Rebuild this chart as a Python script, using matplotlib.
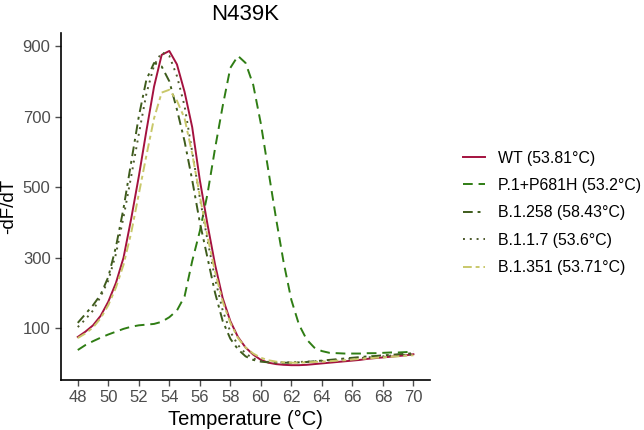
import numpy as np
import matplotlib.pyplot as plt

plt.rcParams['font.family'] = ['Liberation Sans', 'DejaVu Sans']

# Temperatur-Raster (0.5 °C)
temp = np.arange(48, 70.5, 0.5)

wt = [75, 90, 108, 135, 175, 228, 300, 410, 530, 660, 785, 875, 886, 848, 770, 670,
      520, 395, 280, 185, 120, 75, 45, 25, 10, 2, -2, -4,
      -5, -5, -4, -2, 0, 2, 4, 6, 8, 10, 13, 15, 17, 19, 21, 23, 26]
p1 = [38, 52, 63, 73, 82, 90, 98, 104, 108, 110, 112, 118, 131, 150, 190, 290,
      375, 480, 610, 730, 838, 872, 852, 790, 680, 545, 410, 285, 180, 110, 68, 45,
      35, 30, 29, 28, 28, 28, 29, 29, 30, 31, 31, 32, 34]
b1258 = [115, 140, 165, 195, 245, 330, 440, 570, 700, 805, 852, 842, 800, 720, 630, 520,
         400, 300, 200, 120, 70, 40, 20, 10, 5, 3, 2, 2,
         2, 3, 4, 6, 8, 10, 12, 14, 16, 18, 20, 21, 23, 24, 26, 27, 29]
b117 = [103, 125, 150, 190, 235, 310, 415, 530, 650, 765, 845, 882, 872, 815, 730, 600,
        470, 350, 240, 150, 90, 52, 28, 14, 7, 4, 3, 3,
        3, 4, 5, 6, 7, 9, 10, 12, 14, 15, 17, 19, 20, 22, 23, 24, 26]
b1351 = [72, 85, 102, 128, 165, 215, 280, 370, 480, 590, 695, 768, 776, 745, 695, 595,
         475, 360, 260, 175, 115, 72, 45, 28, 16, 9, 5, 3,
         2, 2, 3, 4, 5, 6, 8, 9, 11, 13, 14, 16, 17, 19, 20, 22, 23]

labels = ["WT (53.81°C)", "P.1+P681H (53.2°C)", "B.1.258 (58.43°C)",
          "B.1.1.7 (53.6°C)", "B.1.351 (53.71°C)"]

fig = plt.figure(figsize=(6.44, 4.30), dpi=100)
ax = fig.add_axes([0.0947, 0.1163, 0.5733, 0.807])

lw = 1.4
ax.plot(temp, wt, color="#A4123F", lw=lw, label=labels[0])
ax.plot(temp, p1, color="#2F7D14", lw=lw, dashes=(5, 3), label=labels[1])
ax.plot(temp, b1258, color="#3E5C1C", lw=lw, dashes=(5, 2.5, 1.5, 2.5), label=labels[2])
ax.plot(temp, b117, color="#4D5A2C", lw=lw, dashes=(1, 2.5), label=labels[3])
ax.plot(temp, b1351, color="#C9C86A", lw=lw, dashes=(4.5, 2, 2, 2), label=labels[4])

ax.set_xlim(46.9, 71.1)
ax.set_ylim(-47, 937)
ax.set_xticks(range(48, 71, 2))
ax.set_yticks([100, 300, 500, 700, 900])
for s in ["top", "right"]:
    ax.spines[s].set_visible(False)
for s in ["left", "bottom"]:
    ax.spines[s].set_linewidth(1.2)
ax.tick_params(labelsize=12, colors="#4D4D4D", length=4, width=1)

ax.set_xlabel("Temperature (°C)", fontsize=14.5, labelpad=3)
ax.set_ylabel("-dF/dT", fontsize=13.5)
ax.set_title("N439K", fontsize=16, pad=9)

fig.legend(loc="center left", bbox_to_anchor=(0.719, 0.505), frameon=False,
           fontsize=11.4, handlelength=1.4, handletextpad=0.8, labelspacing=0.78,
           borderpad=0, borderaxespad=0)

fig.savefig("out.png", dpi=100)
